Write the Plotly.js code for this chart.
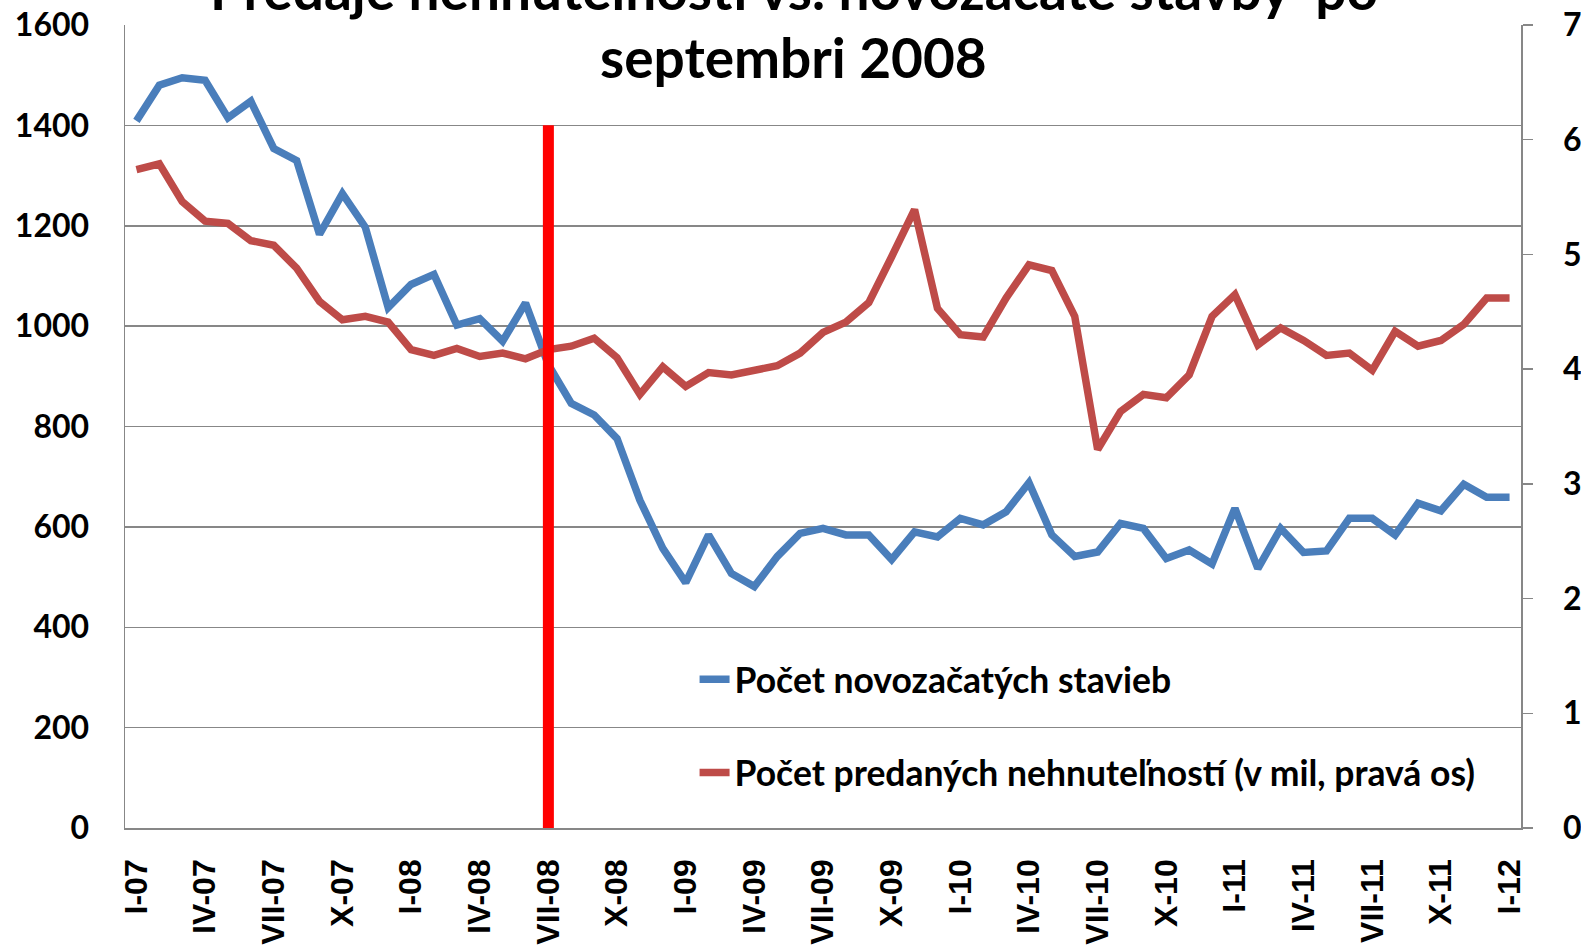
<!DOCTYPE html>
<html>
<head>
<meta charset="utf-8">
<script src="https://cdn.plot.ly/plotly-3.0.1.min.js"></script>
<style>html,body{margin:0;padding:0;background:#fff;}#chart{width:1581px;height:945px;}</style>
</head>
<body>
<div id="chart"></div>
<script>
// Monthly categories I-07 .. I-12
var categories = [
  'I-07','II-07','III-07','IV-07','V-07','VI-07','VII-07','VIII-07','IX-07','X-07','XI-07','XII-07',
  'I-08','II-08','III-08','IV-08','V-08','VI-08','VII-08','VIII-08','IX-08','X-08','XI-08','XII-08',
  'I-09','II-09','III-09','IV-09','V-09','VI-09','VII-09','VIII-09','IX-09','X-09','XI-09','XII-09',
  'I-10','II-10','III-10','IV-10','V-10','VI-10','VII-10','VIII-10','IX-10','X-10','XI-10','XII-10',
  'I-11','II-11','III-11','IV-11','V-11','VI-11','VII-11','VIII-11','IX-11','X-11','XI-11','XII-11',
  'I-12'
];
// Shown tick labels (every third month)
var tickLabels = ['I-07','IV-07','VII-07','X-07','I-08','IV-08','VII-08','X-08','I-09','IV-09','VII-09',
  'X-09','I-10','IV-10','VII-10','X-10','I-11','IV-11','VII-11','X-11','I-12'];

// Počet novozačatých stavieb (left axis, thousands)
var housingStarts = [
  1409,1480,1495,1490,1415,1448,1354,1330,1183,1264,1197,1037,
  1083,1103,1002,1015,970,1046,923,846,823,776,653,557,
  489,584,507,481,541,587,597,584,584,535,590,580,
  617,604,630,688,584,541,550,607,597,537,554,526,
  637,517,597,549,552,617,617,584,647,632,685,659,
  659
];
// Počet predaných nehnuteľností (right axis, millions)
var homeSales = [
  5.74,5.79,5.46,5.29,5.27,5.12,5.08,4.88,4.59,4.43,4.46,4.41,
  4.17,4.12,4.18,4.11,4.14,4.09,4.17,4.20,4.27,4.10,3.78,4.02,
  3.85,3.97,3.95,3.99,4.03,4.14,4.32,4.41,4.58,4.98,5.39,4.53,
  4.30,4.28,4.62,4.91,4.86,4.46,3.30,3.63,3.78,3.75,3.95,4.46,
  4.65,4.21,4.36,4.25,4.12,4.14,3.99,4.33,4.20,4.25,4.39,4.62,
  4.62
];
// Marker month and height of the vertical red line (left-axis units)
var markerMonth = 'VII-08';
var markerTop = 1400;

var titleLine1 = 'Predaje nehnuteľností vs. novozačaté stavby  po';
var titleLine2 = 'septembri 2008';
var seriesNames = ['Počet novozačatých stavieb', 'Počet predaných nehnuteľností (v mil, pravá os)'];

var calib = 'Lato, "Open Sans", sans-serif';
var arialB = '"Liberation Sans", Arial, sans-serif';
var gridC = '#878787';

var traces = [
  {x: categories, y: housingStarts, type: 'scatter', mode: 'lines', name: seriesNames[0],
   legendgroup: 'a', line: {color: '#4A7EBB', width: 7.5}, yaxis: 'y'},
  {x: categories, y: homeSales, type: 'scatter', mode: 'lines', name: seriesNames[1],
   legendgroup: 'b', line: {color: '#BE4B48', width: 7.5}, yaxis: 'y2'}
];

var mi = categories.indexOf(markerMonth);

var layout = {
  width: 1581, height: 945,
  margin: {l: 125, r: 60, t: 25, b: 117, pad: 0},
  paper_bgcolor: '#fff', plot_bgcolor: '#fff',
  font: {family: calib, color: '#000'},
  showlegend: true,
  legend: {x: 0.408, y: 0.222, xanchor: 'left', yanchor: 'top', bgcolor: 'rgba(0,0,0,0)',
    font: {family: calib, size: 35.5, color: '#000', weight: 'bold'},
    traceorder: 'grouped', tracegroupgap: 44},
  xaxis: {type: 'category', range: [-0.5, categories.length - 0.5],
    tickmode: 'array', tickvals: tickLabels, ticktext: tickLabels,
    tickangle: -90, tickfont: {family: arialB, size: 32, color: '#000', weight: 'bold'},
    ticks: '', ticklabelstandoff: 17,
    showline: true, linecolor: gridC, linewidth: 1.5, showgrid: false, zeroline: false, fixedrange: true},
  yaxis: {range: [0, 1600], dtick: 200, tick0: 0, showgrid: true, gridcolor: gridC, gridwidth: 1.5,
    showline: true, linecolor: gridC, linewidth: 1.5, zeroline: false, ticks: '',
    tickfont: {family: calib, size: 32, color: '#000', weight: 'bold'}, ticklabelstandoff: 28},
  yaxis2: {range: [0, 7], dtick: 1, tick0: 0, overlaying: 'y', side: 'right', showgrid: false,
    showline: true, linecolor: gridC, linewidth: 1.5, zeroline: false,
    ticks: 'outside', ticklen: 10, tickwidth: 1.5, tickcolor: gridC,
    tickfont: {family: calib, size: 32, color: '#000', weight: 'bold'}, ticklabelstandoff: 24},
  shapes: [
    {type: 'line', xref: 'x', yref: 'y', x0: mi, x1: mi, y0: 0, y1: markerTop,
     line: {color: '#FF0000', width: 11}, layer: 'above'}
  ],
  annotations: [
    {text: titleLine1, xref: 'paper', yref: 'paper', x: 0.479, y: 1.045, xanchor: 'center', yanchor: 'middle',
     showarrow: false, font: {family: calib, size: 55, color: '#000', weight: 'bold'}},
    {text: titleLine2, xref: 'paper', yref: 'paper', x: 0.479, y: 0.96, xanchor: 'center', yanchor: 'middle',
     showarrow: false, font: {family: calib, size: 55, color: '#000', weight: 'bold'}}
  ]
};

Plotly.newPlot('chart', traces, layout, {displayModeBar: false, staticPlot: true});
</script>
</body>
</html>
